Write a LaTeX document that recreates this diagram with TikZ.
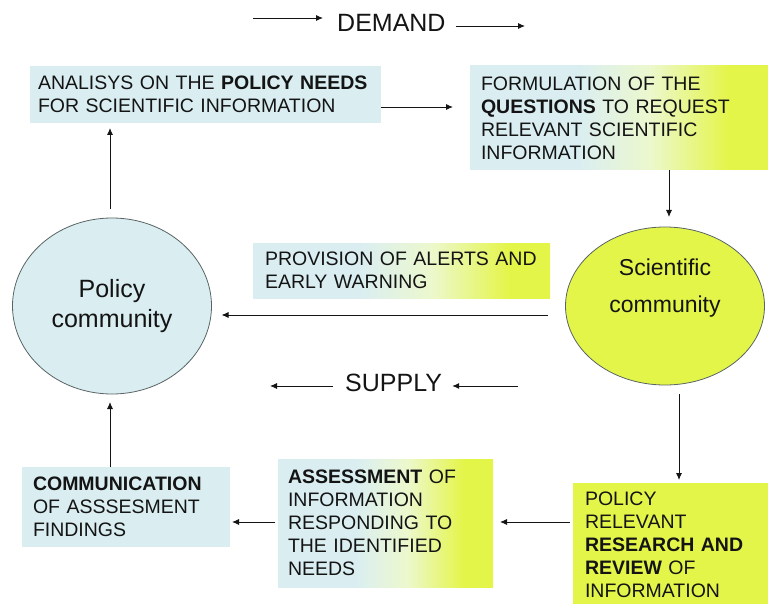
\documentclass[tikz,border=0pt]{standalone}
\usepackage{fontspec}
\setmainfont{Liberation Sans}
\usetikzlibrary{arrows.meta,shapes.geometric}

\definecolor{paleblue}{RGB}{218,238,242}
\definecolor{limey}{RGB}{228,245,74}
\definecolor{palelime}{RGB}{236,248,205}
\definecolor{rimgray}{RGB}{90,100,100}
\definecolor{inkgray}{RGB}{20,20,20}

% blue on the left, fading through a pale green into lime on the right
\pgfdeclarehorizontalshading{blueyellow}{100bp}{%
  color(0bp)=(paleblue); color(25bp)=(paleblue); color(43bp)=(paleblue);
  color(55bp)=(palelime); color(68bp)=(limey); color(75bp)=(limey);
  color(100bp)=(limey)}

\tikzset{
  box/.style={anchor=north west, inner ysep=0pt, outer sep=0pt, align=left,
    font=\fontsize{19.5}{23}\selectfont, text=inkgray},
  bluebox/.style={box, fill=paleblue},
  mixbox/.style={box, shading=blueyellow},
  limebox/.style={box, fill=limey},
  blob/.style={ellipse, draw=rimgray, line width=0.8pt, inner sep=0pt, outer sep=0pt},
  arr/.style={-{Latex[length=7pt,width=6pt]}, line width=0.9pt, draw=inkgray},
  flowword/.style={inner sep=0pt, font=\fontsize{25}{30}\selectfont, text=inkgray}
}

\begin{document}
\begin{tikzpicture}[x=1pt,y=-1pt]
\useasboundingbox (0,0) rectangle (768,604);
\begin{scope}
\clip (0,0) rectangle (768,604);

% boxes
\node[bluebox, text width=335pt, inner xsep=8pt, minimum height=57pt] (needs) at (30,66)
  {ANALISYS~ON~THE~\textbf{POLICY~NEEDS}\\FOR~SCIENTIFIC~INFORMATION};
\node[mixbox, text width=278pt, inner xsep=11pt, minimum height=104pt] (quest) at (470,66)
  {FORMULATION OF THE\\\textbf{QUESTIONS}~TO~REQUEST\\RELEVANT~SCIENTIFIC\\INFORMATION};
\node[mixbox, text width=273pt, inner xsep=12pt, minimum height=55pt] (alerts) at (253,243)
  {PROVISION~OF~ALERTS~AND\\EARLY WARNING};
\node[bluebox, text width=186pt, inner xsep=11pt, minimum height=80pt] (comm) at (22,467)
  {\textbf{COMMUNICATION}\\OF~ASSSESMENT\\FINDINGS};
\node[mixbox, text width=195pt, inner xsep=10pt, minimum height=128pt] (assess) at (278,459)
  {\textbf{ASSESSMENT}~OF\\INFORMATION\\RESPONDING~TO\\THE~IDENTIFIED\\NEEDS};
\node[limebox, text width=173pt, inner xsep=12pt, minimum height=124pt] (review) at (573,483)
  {POLICY\\RELEVANT\\\textbf{RESEARCH~AND}\\\textbf{REVIEW}~OF\\INFORMATION};

% communities
\node[blob, fill=paleblue, minimum width=199pt, minimum height=176pt, align=center,
  font=\fontsize{25}{30}\selectfont, text=inkgray] (pol) at (112,306) {Policy\\community};
\node[blob, fill=limey, minimum width=199pt, minimum height=158pt,
  label={[yshift=18pt, align=center, font=\fontsize{23}{37}\selectfont, text=inkgray]center:Scientific\\community}]
  (sci) at (665,306) {};

% flow captions
\node[flowword, anchor=west] (demand) at (337,23) {DEMAND};
\node[flowword, anchor=west] (supply) at (345,383) {SUPPLY};
\coordinate (dA) at (253,18);
\coordinate (dB) at (525,26);
\coordinate (sA) at (270,386);
\coordinate (sB) at (518,386);

\draw[arr, shorten >=14pt] (dA) -- (dA -| demand.west);
\draw[arr, shorten <=10pt] (demand.east |- dB) -- (dB);
\draw[arr, shorten <=12pt] (supply.west |- sA) -- (sA);
\draw[arr, shorten >=10pt] (sB) -- (sB -| supply.east);

% cycle
\draw[arr, shorten <=9pt, shorten >=5pt] ([xshift=-2pt]pol.north) -- ([xshift=-2pt]pol.north |- needs.south);
\draw[arr, shorten >=17pt] ([yshift=-12.5pt]needs.east) -- ([yshift=-12.5pt]needs.east -| quest.west);
\draw[arr, shorten >=10pt] (quest.south -| 669,0) -- (669,0 |- sci.north);
\draw[arr, shorten <=18pt, shorten >=10pt] ([yshift=-9pt]sci.west) -- ([yshift=-9pt]sci.west -| pol.east);
\draw[arr, shorten <=9pt, shorten >=3pt] (679,0 |- sci.south) -- (679,0 |- review.north);
\draw[arr, shorten <=3pt, shorten >=7pt] (review.west |- 0,522) -- (assess.east |- 0,522);
\draw[arr, shorten <=3pt, shorten >=2pt] (assess.west |- 0,522) -- (comm.east |- 0,522);
\draw[arr, shorten >=8pt] (comm.north -| 110,0) -- (110,0 |- pol.south);
\end{scope}
\end{tikzpicture}
\end{document}
